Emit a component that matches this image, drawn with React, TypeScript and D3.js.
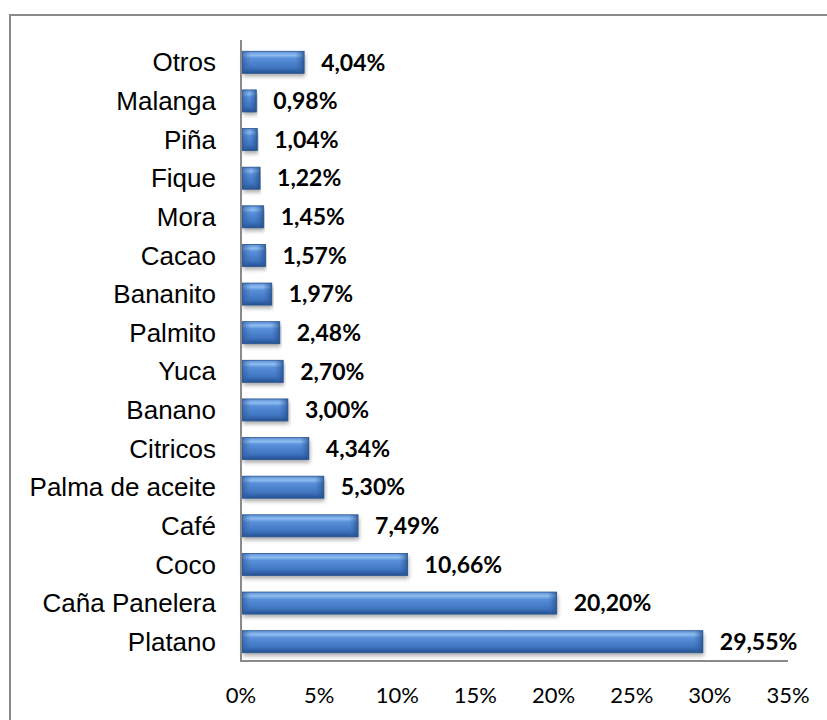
import React from 'react';
import * as d3 from 'd3';

const categories = ['Otros', 'Malanga', 'Piña', 'Fique', 'Mora', 'Cacao', 'Bananito', 'Palmito', 'Yuca', 'Banano', 'Citricos', 'Palma de aceite', 'Café', 'Coco', 'Caña Panelera', 'Platano'];
const values = [4.04, 0.98, 1.04, 1.22, 1.45, 1.57, 1.97, 2.48, 2.7, 3.0, 4.34, 5.3, 7.49, 10.66, 20.2, 29.55];
const tickValues = [0, 5, 10, 15, 20, 25, 30, 35];

const fmt = (v: number) => v.toFixed(2).replace('.', ',') + '%';

export default function App() {
  const W = 827;
  const H = 720;
  const x = d3.scaleLinear().domain([0, 35]).range([241, 788]);
  const y = d3.scaleBand<string>().domain(categories).range([43, 661]).paddingInner(0.43).paddingOuter(0.215);
  const bw = y.bandwidth();
  const bev = 9;

  return (
    <svg width={W} height={H} style={{ position: 'absolute', left: 0, top: 0, background: '#fff' }}>
      <defs>
        <linearGradient id="barG" x1="0" y1="0" x2="0" y2="1">
          <stop offset="0" stopColor="#5b8fd6" />
          <stop offset="0.18" stopColor="#8fbdf0" />
          <stop offset="0.32" stopColor="#5a90da" />
          <stop offset="0.75" stopColor="#3f74c0" />
          <stop offset="1" stopColor="#22508f" />
        </linearGradient>
        <linearGradient id="endG" x1="0" y1="0" x2="1" y2="0">
          <stop offset="0" stopColor="#3a6cb5" stopOpacity="0" />
          <stop offset="1" stopColor="#244f8c" stopOpacity="0.8" />
        </linearGradient>
        <linearGradient id="startG" x1="0" y1="0" x2="1" y2="0">
          <stop offset="0" stopColor="#2a5798" stopOpacity="0.7" />
          <stop offset="1" stopColor="#3a6cb5" stopOpacity="0" />
        </linearGradient>
        <filter id="sh" x="-5%" y="-20%" width="110%" height="160%">
          <feGaussianBlur in="SourceAlpha" stdDeviation="2" />
          <feOffset dx="1" dy="3" result="b" />
          <feComponentTransfer><feFuncA type="linear" slope="0.35" /></feComponentTransfer>
          <feMerge><feMergeNode /><feMergeNode in="SourceGraphic" /></feMerge>
        </filter>
      </defs>
      <path d={`M10,${H} V15 H${W}`} fill="none" stroke="#8a8a8a" strokeWidth={2} />

      {categories.map((c, i) => {
        const y0 = y(c)!;
        const x0 = x(0) + 1;
        const x1 = x(values[i]);
        const w = x1 - x0;
        const b = Math.min(bev, w / 2);
        return (
          <g key={c}>
            <rect x={x0} y={y0} width={w} height={bw} fill="url(#barG)" filter="url(#sh)" />
            <rect x={x0} y={y0} width={b} height={bw} fill="url(#startG)" />
            <rect x={x1 - b} y={y0} width={b} height={bw} fill="url(#endG)" />
            <rect x={x0} y={y0} width={w} height={bw} fill="none" stroke="#2c5591" strokeWidth={0.8} />
            <text x={216} y={y0 + bw / 2} dy="0.35em" textAnchor="end" fontFamily="'Liberation Sans', Arial, sans-serif" fontSize={26} fill="#000">{c}</text>
            <text x={x1 + 17} y={y0 + bw / 2} dy="0.36em" fontFamily="Lato, 'Open Sans', sans-serif" fontWeight="bold" fontSize={23} fill="#000">{fmt(values[i])}</text>
          </g>
        );
      })}

      <line x1={x(0)} x2={x(0)} y1={40} y2={662} stroke="#8a8a8a" strokeWidth={2} />
      <line x1={x(0)} x2={x(35)} y1={661} y2={661} stroke="#8a8a8a" strokeWidth={2} />
      {tickValues.map((t) => (
        <text key={t} x={x(t)} y={695} dy="0.35em" textAnchor="middle" fontFamily="Lato, 'Open Sans', sans-serif" fontSize={22} fill="#000">{t}%</text>
      ))}
    </svg>
  );
}
